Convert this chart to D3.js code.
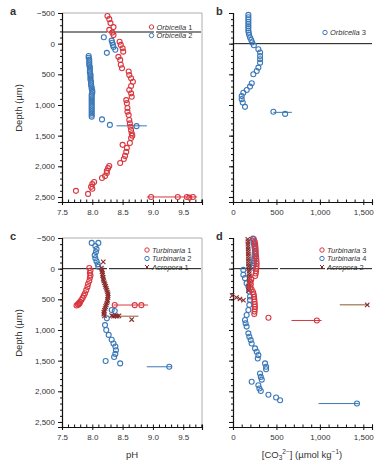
<!DOCTYPE html>
<html lang="en">
<head>
<meta charset="UTF-8">
<title>Microprofiles</title>
<style>
  body { margin: 0; background: #fff; }
  svg text { font-family: "Liberation Sans", Arial, sans-serif; fill: #333; }
</style>
</head>
<body>
<div class="container"></div>
<script src="https://cdn.jsdelivr.net/npm/d3@7/dist/d3.min.js"></script>
<script>
// ---- data: [value, depth in µm] ----
const depthTicks = [-500, 0, 500, 1000, 1500, 2000, 2500]
const phTicks = [7.5, 8.0, 8.5, 9.0, 9.5]
const co3Ticks = [0, 500, 1000, 1500]

const orbicella1 = [[8.25,-450],[8.28,-400],[8.30,-335],[8.35,-270],[8.28,-225],[8.33,-180],[8.35,-140],[8.45,-30],[8.47,20],[8.50,75],[8.51,130],[8.43,215],[8.46,265],[8.47,345],[8.49,400],[8.60,455],[8.61,510],[8.64,565],[8.67,620],[8.64,690],[8.61,755],[8.64,810],[8.65,865],[8.56,920],[8.57,970],[8.58,1050],[8.58,1110],[8.60,1165],[8.61,1245],[8.62,1300],[8.63,1355],[8.64,1410],[8.65,1460],[8.66,1500],[8.64,1540],[8.62,1620],[8.50,1650],[8.57,1700],[8.56,1765],[8.54,1830],[8.52,1880],[8.46,1945],[8.28,1995],[8.26,2030],[8.24,2075],[8.24,2110],[8.21,2160],[8.16,2190],[8.03,2255],[8.00,2290],[7.98,2335],[8.00,2365],[7.93,2450],[7.73,2400],[8.97,2500],[9.41,2500],[9.56,2500],[9.60,2510],[9.66,2500]]
const orbicella1Bar = [8.90, 9.73, 2500]

const orbicella2 = [[8.19,-105],[8.32,-50],[8.33,-15],[8.34,20],[8.35,55],[8.38,100],[8.24,150],[7.94,200],[7.94,230],[7.95,260],[7.95,290],[7.95,320],[7.95,350],[7.96,380],[7.96,410],[7.96,440],[7.96,470],[7.97,500],[7.97,530],[7.97,560],[7.97,590],[7.98,620],[7.98,650],[7.98,680],[7.99,710],[7.99,740],[8.00,770],[8.00,800],[7.99,830],[7.99,860],[7.99,890],[7.99,920],[7.99,950],[7.99,980],[7.99,1010],[7.99,1040],[7.99,1070],[7.99,1100],[7.99,1130],[7.99,1160],[7.99,1190],[8.16,1235],[8.29,1325],[8.73,1345]]
const orbicella2Bar = [8.40, 8.90, 1340]

const orbicella3 = [[177,-470],[177,-430],[177,-395],[177,-355],[177,-320],[177,-285],[177,-250],[177,-215],[180,-180],[185,-145],[196,-100],[210,-60],[220,-20],[240,25],[292,90],[312,145],[312,200],[312,255],[312,310],[292,390],[273,445],[234,500],[216,645],[196,700],[158,755],[119,800],[100,855],[100,905],[112,960],[138,1030],[465,1110],[600,1145]]
const orbicella3Bar = [465, 677, 1120]

const turbinaria1 = [[7.95,-10],[7.97,30],[7.96,70],[7.97,110],[7.96,150],[7.95,200],[7.93,250],[7.92,300],[7.90,350],[7.88,400],[7.86,440],[7.84,480],[7.82,510],[7.80,540],[7.78,560],[7.76,580],[7.74,600],[7.77,590],[7.79,570],[8.37,592],[8.70,595],[8.81,595]]
const turbinaria1Bar = [8.35, 8.92, 593]

const turbinaria2 = [[7.99,-420],[8.10,-420],[8.05,-370],[8.07,-320],[8.06,-270],[8.04,-220],[8.05,-170],[8.07,-120],[8.09,-70],[8.10,-30],[8.32,675],[8.37,690],[8.24,810],[8.21,920],[8.23,1000],[8.27,1080],[8.32,1160],[8.35,1220],[8.38,1270],[8.39,1330],[8.38,1390],[8.36,1440],[8.22,1505],[8.46,1545],[9.27,1600]]
const turbinaria2Bar = [8.90, 9.31, 1600]

const acropora1 = [[8.18,-110],[8.15,-10],[8.16,20],[8.16,50],[8.17,80],[8.17,110],[8.18,140],[8.18,170],[8.19,200],[8.20,230],[8.21,260],[8.22,290],[8.23,320],[8.24,350],[8.25,380],[8.26,410],[8.26,440],[8.26,470],[8.25,500],[8.25,530],[8.24,560],[8.23,590],[8.22,620],[8.21,650],[8.20,680],[8.19,710],[8.19,740],[8.20,770],[8.32,765],[8.35,775],[8.38,770],[8.41,775],[8.44,770],[8.65,830]]
const acropora1Bar = [8.30, 8.76, 775]

const turbinaria3 = [[240,-480],[250,-440],[255,-400],[258,-360],[260,-320],[262,-280],[262,-240],[265,-200],[268,-160],[270,-120],[272,-80],[270,-40],[268,0],[265,40],[262,80],[255,120],[210,175],[200,215],[205,255],[200,300],[215,340],[230,380],[238,420],[242,460],[245,500],[248,540],[250,580],[252,620],[250,660],[248,700],[245,740],[408,800],[965,845]]
const turbinaria3Bar = [673, 1020, 845]

const turbinaria4 = [[230,-490],[235,-450],[240,-410],[245,-370],[250,-330],[252,-290],[250,-250],[248,-210],[245,-170],[243,-130],[240,-90],[238,-50],[230,-15],[119,20],[119,100],[138,155],[157,236],[177,291],[188,373],[196,455],[196,509],[188,591],[177,673],[157,755],[138,836],[145,890],[157,945],[177,1055],[188,1110],[204,1165],[215,1220],[254,1300],[273,1355],[292,1410],[285,1465],[369,1545],[381,1600],[381,1640],[311,1710],[320,1765],[331,1810],[215,1845],[292,1900],[304,1955],[320,1995],[408,2055],[496,2100],[542,2145],[1427,2200]]
const turbinaria4Bar = [985, 1446, 2200]

const acropora2 = [[170,-480],[172,-440],[172,-400],[174,-360],[175,-320],[176,-280],[176,-240],[177,-200],[178,-160],[178,-120],[178,-80],[180,-40],[182,0],[185,40],[188,80],[190,120],[190,160],[188,200],[185,240],[182,280],[180,320],[178,360],[-10,440],[40,470],[80,495],[120,515],[1545,590]]
const acropora2Bar = [1229, 1565, 590]

// ---- setup ----
const width = 386
const height = 467
const red = "#d9363e"
const blue = "#3b78b8"
const dark = "#8a2a2a"
const brown = "#8a5a30"

const svg = d3.select('.container')
  .append('svg')
  .attr('width', width)
  .attr('height', height)

const fmt = d => d < 0 ? "\u2212" + d3.format(",")(-d) : d3.format(",")(d)

function makePanel(p) {
  const x = d3.scaleLinear().domain(p.xDomain).range(p.xRange)
  const y = d3.scaleLinear().domain([-500, 2582]).range(p.yRange)
  const g = svg.append('g')

  // grey frame on top and right
  if (p.frame) {
    g.append('path')
      .attr('d', `M${p.xRange[0]},${p.yRange[0]}H${p.xRange[1]}V${p.yRange[1]}`)
      .attr('fill', 'none').attr('stroke', '#999').attr('stroke-width', 0.8)
  }

  // reference line
  g.append('line')
    .attr('x1', p.xRange[0]).attr('x2', p.xRange[1])
    .attr('y1', y(p.refDepth)).attr('y2', y(p.refDepth))
    .attr('stroke', '#111').attr('stroke-width', 1)
    .attr('stroke-dasharray', p.refDash || null)

  // left axis: minor + major
  const minorY = d3.range(-500, 2581, 100)
  g.append('g').attr('transform', `translate(${p.xRange[0]},0)`)
    .call(d3.axisLeft(y).tickValues(minorY).tickSize(2).tickFormat(''))
  g.append('g').attr('transform', `translate(${p.xRange[0]},0)`)
    .call(d3.axisLeft(y).tickValues(depthTicks).tickSize(4).tickPadding(3)
      .tickFormat(p.yLabels ? fmt : ''))

  // bottom axis: minor inward, major outward
  const bx = g.append('g').attr('transform', `translate(0,${p.yRange[1]})`)
  bx.call(d3.axisTop(x).tickValues(p.xMinor).tickSize(2.5).tickFormat(''))
  g.append('g').attr('transform', `translate(0,${p.yRange[1]})`)
    .call(d3.axisBottom(x).tickValues(p.xTicks).tickSize(3).tickPadding(4)
      .tickFormat(p.xFormat))

  g.selectAll('.domain').attr('stroke', '#111').attr('stroke-width', 1.1)
  g.selectAll('.tick line').attr('stroke', '#111')
  g.selectAll('.tick text').attr('font-size', 8).attr('fill', '#333')

  return { x, y, g }
}

function circles(panel, data, color) {
  panel.g.append('g').selectAll('circle').data(data).join('circle')
    .attr('cx', d => panel.x(d[0])).attr('cy', d => panel.y(d[1]))
    .attr('r', 2.5).attr('fill', 'none')
    .attr('stroke', color).attr('stroke-width', 1.1)
}

function crosses(panel, data, color) {
  panel.g.append('g').selectAll('path').data(data).join('path')
    .attr('transform', d => `translate(${panel.x(d[0])},${panel.y(d[1])})`)
    .attr('d', 'M-2.2,-2.2L2.2,2.2M-2.2,2.2L2.2,-2.2')
    .attr('stroke', color).attr('stroke-width', 1.1)
}

function bar(panel, b, color) {
  panel.g.append('line')
    .attr('x1', panel.x(b[0])).attr('x2', panel.x(b[1]))
    .attr('y1', panel.y(b[2])).attr('y2', panel.y(b[2]))
    .attr('stroke', color).attr('stroke-width', 1)
}

function legend(x0, y0, items) {
  items.forEach((it, i) => {
    const yy = y0 + i * 8.5
    if (it.mark === 'x') {
      svg.append('path').attr('transform', `translate(${x0},${yy})`)
        .attr('d', 'M-2,-2L2,2M-2,2L2,-2').attr('stroke', it.color).attr('stroke-width', 1)
    } else {
      svg.append('circle').attr('cx', x0).attr('cy', yy).attr('r', 2.2)
        .attr('fill', 'none').attr('stroke', it.color).attr('stroke-width', 1)
    }
    const t = svg.append('text').attr('x', x0 + 5).attr('y', yy + 2.6).attr('font-size', 7.5)
    t.append('tspan').attr('font-style', 'italic').text(it.name)
    t.append('tspan').text(' ' + it.num)
  })
}

const phMinor = d3.range(7.5, 9.81, 0.1)
const co3Minor = d3.range(0, 1601, 100)

const pa = makePanel({ xDomain: [7.5, 9.81], xRange: [62, 202], yRange: [13, 202], frame: true,
  refDepth: -190, refDash: '45,2', yLabels: true, xTicks: phTicks, xMinor: phMinor, xFormat: d3.format('.1f') })
const pb = makePanel({ xDomain: [0, 1600], xRange: [233, 372], yRange: [13, 202], frame: false,
  refDepth: 0, yLabels: false, xTicks: co3Ticks, xMinor: co3Minor, xFormat: fmt })
const pc = makePanel({ xDomain: [7.5, 9.81], xRange: [62, 202], yRange: [238, 427], frame: true,
  refDepth: 0, refDash: '45,2', yLabels: true, xTicks: phTicks, xMinor: phMinor, xFormat: d3.format('.1f') })
const pd = makePanel({ xDomain: [0, 1600], xRange: [233, 372], yRange: [238, 427], frame: false,
  refDepth: 0, refDash: '45,2', yLabels: false, xTicks: co3Ticks, xMinor: co3Minor, xFormat: fmt })

// panel a
bar(pa, orbicella1Bar, red)
bar(pa, orbicella2Bar, blue)
circles(pa, orbicella2, blue)
circles(pa, orbicella1, red)
// panel b
bar(pb, orbicella3Bar, blue)
circles(pb, orbicella3, blue)
// panel c
bar(pc, turbinaria1Bar, red)
bar(pc, turbinaria2Bar, blue)
bar(pc, acropora1Bar, brown)
circles(pc, turbinaria2, blue)
circles(pc, turbinaria1, red)
crosses(pc, acropora1, dark)
// panel d
bar(pd, turbinaria3Bar, red)
bar(pd, turbinaria4Bar, blue)
bar(pd, acropora2Bar, brown)
circles(pd, turbinaria4, blue)
crosses(pd, acropora2, dark)
circles(pd, turbinaria3, red)

legend(151.5, 27, [{ name: 'Orbicella', num: '1', color: red }, { name: 'Orbicella', num: '2', color: blue }])
legend(325, 32.5, [{ name: 'Orbicella', num: '3', color: blue }])
legend(147, 250, [{ name: 'Turbinaria', num: '1', color: red }, { name: 'Turbinaria', num: '2', color: blue },
  { name: 'Acropora', num: '1', color: dark, mark: 'x' }])
legend(322, 250, [{ name: 'Turbinaria', num: '3', color: red }, { name: 'Turbinaria', num: '4', color: blue },
  { name: 'Acropora', num: '2', color: dark, mark: 'x' }])

// panel letters
const letters = [['a', 10, 15], ['b', 216, 15], ['c', 10, 240], ['d', 216, 240]]
letters.forEach(l => svg.append('text').attr('x', l[1]).attr('y', l[2])
  .attr('font-size', 11).attr('font-weight', 'bold').attr('fill', '#111').text(l[0]))

// axis titles
;[108, 333].forEach(cy => svg.append('text')
  .attr('transform', `translate(22,${cy}) rotate(-90)`)
  .attr('text-anchor', 'middle').attr('font-size', 9.5).text('Depth (\u00b5m)'))

svg.append('text').attr('x', 132).attr('y', 458).attr('text-anchor', 'middle')
  .attr('font-size', 9.5).text('pH')

const co3 = svg.append('text').attr('x', 302).attr('y', 458).attr('text-anchor', 'middle').attr('font-size', 9.5)
co3.append('tspan').text('[CO')
co3.append('tspan').attr('font-size', 6.5).attr('dy', 2).text('3')
co3.append('tspan').attr('font-size', 6.5).attr('dy', -6).text('2\u2212')
co3.append('tspan').attr('dy', 4).text('] (\u00b5mol kg')
co3.append('tspan').attr('font-size', 6.5).attr('dy', -4).text('\u22121')
co3.append('tspan').attr('dy', 4).text(')')
</script>
</body>
</html>
